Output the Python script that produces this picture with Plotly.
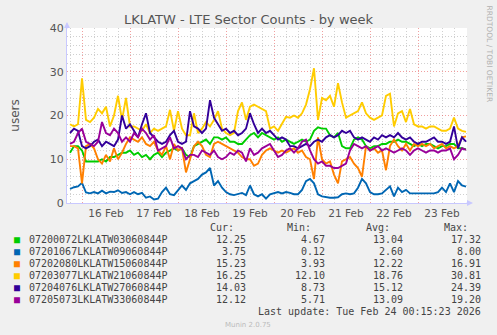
import pandas as pd
import plotly.graph_objects as go

# 2-hourly samples
times = pd.date_range("2026-02-15 18:00", periods=100, freq="2h")

names = ["07200072LKLATW03060844P", "07201067LKLATW09060844P", "07202080LKLATW15060844P",
         "07203077LKLATW21060844P", "07204076LKLATW27060844P", "07205073LKLATW33060844P"]
colors = ["#00cc00", "#0066b3", "#ff8000", "#ffcc00", "#330099", "#990099"]

green = [11.5, 13, 13, 12, 9.5, 9.5, 9.5, 9.5, 10, 9.5, 10.5, 10.5, 11, 11.5, 11.5, 12,
         11, 11.5, 10.5, 11, 10, 11, 11.5, 10.5, 11.5, 12, 12.5, 12, 12.5, 11, 10.5, 13,
         13.5, 14, 14.5, 13.5, 15, 15, 14.5, 15, 14, 14, 13.5, 13.5, 14.5, 15.5, 16, 15,
         16, 15.5, 15, 14.5, 15, 14, 14.5, 14, 13.5, 14, 14.5, 14, 14.5, 16.5, 17.3, 17,
         17, 15.5, 15, 16, 13, 12.5, 12.5, 14.5, 15, 14.5, 13, 12.5, 13, 13, 13.5, 13.5,
         14, 14, 14.5, 14, 14, 13.5, 13, 13.5, 13, 13.5, 13.5, 13, 12.5, 13, 13, 13.5,
         13.5, 12.5, 12.5, 12.25]
blue = [3.2, 3.6, 3.8, 4.6, 2.4, 2.2, 2.5, 2.2, 2.8, 2.2, 2.6, 2.5, 2.9, 2.3, 2.5, 2.0,
        2.5, 2.0, 2.3, 1.2, 1.5, 0.8, 1.0, 2.5, 3.5, 2.0, 1.8, 3.0, 4.0, 3.0, 4.5, 5.0,
        5.5, 6.5, 7.0, 8.0, 4.0, 5.0, 3.5, 2.5, 2.0, 1.8, 2.0, 2.3, 1.8, 4.0, 2.0, 1.5,
        2.0, 1.0, 2.0, 2.2, 2.5, 2.2, 2.5, 2.3, 2.0, 2.0, 3.0, 5.0, 5.5, 4.5, 2.0, 1.5,
        1.3, 1.2, 1.2, 1.3, 2.0, 2.2, 2.0, 2.2, 3.5, 5.5, 4.5, 2.5, 2.0, 2.0, 2.2, 3.0,
        3.8, 1.5, 3.5, 2.5, 3.0, 2.2, 2.2, 2.2, 2.2, 2.2, 2.2, 2.2, 2.5, 3.5, 2.5, 4.5,
        2.5, 5.0, 4.0, 3.75]
orange = [13, 13, 12.5, 4.5, 13, 13.5, 12.5, 10, 9, 11, 9.5, 12.5, 10, 11.5, 13.5, 15,
          14.5, 14, 15, 13.5, 13, 14, 12, 11, 13, 10, 13.5, 12, 12.5, 7, 10, 13,
          14, 13, 11, 10.5, 13.5, 14, 13.5, 13, 12.5, 12, 11.5, 10.5, 10, 10, 8.5, 9,
          11, 12, 12.5, 12, 11.5, 12, 11.5, 12, 12.5, 11.5, 12, 10.5, 10, 5.5, 15, 10,
          9, 9.5, 6.5, 4.5, 9.5, 10, 10.5, 9, 8, 6, 13, 12, 12.5, 11.5, 12, 7.5,
          13, 14.5, 13, 12, 13.5, 12, 13.5, 13, 13.5, 13, 13.5, 12.5, 13, 13.5, 12.5, 13,
          12.5, 13, 15, 15.23]
yellow = [18, 17.5, 18, 28.5, 19, 18.5, 19.5, 21.5, 20.5, 22, 17.5, 20, 24.5, 19, 24, 17.5,
          17.5, 17, 16.5, 18, 16, 17, 16.5, 17, 17.5, 21.3, 16.5, 21, 17, 15.5, 15.5, 20.5,
          16, 17, 18.5, 17.5, 19, 21, 17, 16, 15.5, 16, 21, 23, 19, 22, 22.5, 22,
          21.5, 21, 17, 17.5, 16.5, 18, 19.7, 19.5, 20, 19.5, 20.5, 22.5, 26, 30.8, 19, 24,
          23.5, 24.5, 22, 27.4, 23, 19.5, 20, 20.5, 21, 23, 20.5, 19.5, 19, 19.5, 20, 24.5,
          25, 17.5, 20.5, 21, 18.5, 21.5, 18, 17.5, 17.5, 17, 17.5, 17.5, 17, 16.5, 16.5, 17,
          19.5, 17, 16.5, 16.25]
indigo = [16, 17, 16.5, 13, 12.5, 13, 14, 14.5, 13, 14, 13.5, 13, 14.5, 20, 17, 18,
          16.5, 15, 18, 20.5, 16, 15, 14, 13.5, 14, 15.5, 16.5, 14, 13.5, 14, 21, 17.5,
          17, 16, 17, 23.5, 19.5, 18, 16.5, 17, 16, 16.5, 15.5, 16, 17, 20.5, 18, 16,
          17, 16, 16.5, 15.5, 14.5, 15, 14.5, 13, 13, 12.5, 13, 13.5, 13, 14, 14.5, 14,
          15, 15.5, 15, 15.5, 16.5, 16, 16.5, 15, 14.5, 15, 14.5, 14, 15, 14.5, 15.5, 15,
          15.5, 15, 16, 15, 14.5, 15, 14, 13.5, 14, 14, 14.5, 15, 14, 14, 13.5, 14,
          17.5, 12.5, 15, 14.03]
purple = [13.5, 14, 16, 17, 14, 13.5, 13, 14, 18.5, 16, 15.5, 17, 16, 14, 15, 14,
          16, 15, 17, 16, 14.5, 15.5, 12, 12.5, 13, 15, 12.5, 13, 12.5, 10, 11, 11,
          10.5, 12, 11.5, 11, 12, 10.5, 10, 10.5, 11.5, 11, 12, 11.5, 9.5, 12.5, 11, 11.5,
          12.5, 13, 13.5, 12, 10.5, 11, 12, 12.5, 11.5, 12.5, 14, 14.5, 12, 10, 9, 9.5,
          8.5, 8.5, 8, 8, 8.5, 9, 12, 13.5, 13, 12.5, 13, 12, 12.5, 13, 12, 12.5,
          12, 11.5, 12, 12.5, 12, 11, 12, 12.5, 12, 11.5, 12, 12, 11.5, 12, 12, 12.5,
          10, 11, 12.5, 12.12]
series = [green, blue, orange, yellow, indigo, purple]

cur = ["12.25", "3.75", "15.23", "16.25", "14.03", "12.12"]
mins = ["4.67", "0.12", "3.93", "12.10", "8.73", "5.71"]
avgs = ["13.04", "2.60", "12.22", "18.76", "15.12", "13.09"]
maxs = ["17.32", "8.00", "16.91", "30.81", "24.39", "19.20"]
last_update = "Last update: Tue Feb 24 00:15:23 2026"

W, H = 497, 335
L, R, T, B = 67, 467, 28, 203
axis_col = "#c8c8ff"

fig = go.Figure()
for name, col, vals in zip(names, colors, series):
    fig.add_trace(go.Scatter(x=times, y=vals, mode="lines", name=name,
                             line=dict(color=col, width=1.9), showlegend=False))

def px(x):
    return (x - L) / (R - L)

def py(y):
    return (B - y) / (B - T)

mono = dict(family="DejaVu Sans Mono", size=10, color="#444444")
ann = []
for lab, xr in [("Cur:", 236), ("Min:", 313), ("Avg:", 392), ("Max:", 470)]:
    ann.append(dict(x=px(xr), y=py(227.5), text=lab, xanchor="right"))
for k in range(6):
    yy = py(239.3 + 12 * k)
    ann.append(dict(x=px(16.5), y=yy, text="■", xanchor="center",
                    font=dict(family="DejaVu Sans Mono", size=10, color=colors[k])))
    ann.append(dict(x=px(26.5), y=yy, text=names[k], xanchor="left"))
    for col_vals, xr in [(cur, 248), (mins, 327), (avgs, 405), (maxs, 483)]:
        ann.append(dict(x=px(xr), y=yy, text=col_vals[k], xanchor="right"))
ann.append(dict(x=px(483), y=py(311.5), text=last_update, xanchor="right"))
for a in ann:
    a.update(xref="paper", yref="paper", showarrow=False, yanchor="middle")
    a.setdefault("font", mono)
ann.append(dict(x=px(248), y=py(324.5), xref="paper", yref="paper", text="Munin 2.0.75",
                showarrow=False, yanchor="middle",
                font=dict(family="DejaVu Sans", size=7, color="#bbbbbb")))
ann.append(dict(x=px(489), y=py(53.5), xref="paper", yref="paper", text="RRDTOOL / TOBI OETIKER",
                textangle=90, showarrow=False, yanchor="middle", xanchor="center",
                font=dict(family="DejaVu Sans", size=7.5, color="#b0b0b0")))
# little arrow heads on the axes, rrdtool style
ann.append(dict(x=0, y=py(22), xref="paper", yref="paper", ax=0, ay=8, text="",
                showarrow=True, arrowhead=2, arrowsize=1, arrowwidth=1.2, arrowcolor=axis_col))
ann.append(dict(x=px(473), y=0, xref="paper", yref="paper", ax=-8, ay=0, text="",
                showarrow=True, arrowhead=2, arrowsize=1, arrowwidth=1.2, arrowcolor=axis_col))

grid_minor = "rgba(150,150,150,0.45)"
grid_major = "rgba(230,80,80,0.55)"

fig.update_layout(
    width=W, height=H,
    margin=dict(l=L, r=W - R, t=T, b=H - B, autoexpand=False),
    paper_bgcolor="#f0f0f0", plot_bgcolor="#ffffff",
    title=dict(text="LKLATW - LTE Sector Counts - by week", x=0.5, xanchor="center",
               y=1 - 19 / H, yanchor="middle", yref="container", automargin=False,
               font=dict(family="DejaVu Sans", size=13, color="#555555")),
    annotations=ann,
    xaxis=dict(type="date", range=["2026-02-15 16:30", "2026-02-24 00:30"],
               tick0="2026-02-16", dtick=86400000, tickformat="%d %b",
               ticklabelmode="period", ticks="", automargin=False,
               showgrid=True, gridcolor=grid_major, griddash="1px,2px", gridwidth=1,
               minor=dict(dtick=6 * 3600 * 1000, tick0="2026-02-16", showgrid=True,
                          gridcolor=grid_minor, griddash="1px,2px", gridwidth=1),
               showline=True, linecolor=axis_col, linewidth=1,
               tickfont=dict(family="DejaVu Sans", size=10.5, color="#555555"),
               zeroline=False),
    yaxis=dict(range=[0, 40], dtick=10, tick0=0, ticks="", automargin=False,
               showgrid=True, gridcolor=grid_major, griddash="1px,2px", gridwidth=1,
               minor=dict(dtick=2, showgrid=True, gridcolor=grid_minor,
                          griddash="1px,2px", gridwidth=1),
               showline=True, linecolor=axis_col, linewidth=1, zeroline=False,
               tickfont=dict(family="DejaVu Sans", size=11, color="#555555"),
               title=dict(text="users", standoff=27,
                          font=dict(family="DejaVu Sans", size=12, color="#555555"))),
)

# drop the browser's default 8px body margin so the page lines up with the window
fig.write_html("out.html", config={"displayModeBar": False},
               post_script="document.body.style.margin='0px';")
